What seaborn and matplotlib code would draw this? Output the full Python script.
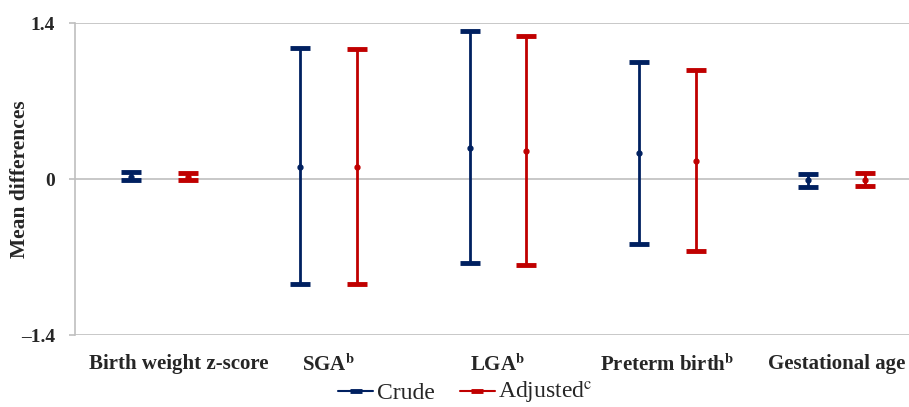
import numpy as np
import pandas as pd
import matplotlib
matplotlib.use("Agg")
import matplotlib.pyplot as plt
import matplotlib.transforms as mtransforms
import seaborn as sns
from matplotlib.lines import Line2D

categories = ["Birth weight z-score", r"SGA$^{\mathbf{b}}$", r"LGA$^{\mathbf{b}}$",
              r"Preterm birth$^{\mathbf{b}}$", "Gestational age"]
crude_est = [0.02, 0.11, 0.28, 0.23, -0.01]
crude_low = [-0.01, -0.94, -0.75, -0.58, -0.07]
crude_high = [0.06, 1.18, 1.33, 1.05, 0.045]
adj_est = [0.02, 0.11, 0.25, 0.16, -0.005]
adj_low = [-0.01, -0.94, -0.77, -0.65, -0.06]
adj_high = [0.055, 1.17, 1.28, 0.98, 0.055]
series_names = ["Crude", r"Adjusted$^{\mathrm{c}}$"]
yticks = [-1.4, 0, 1.4]
ytick_labels = ["\u20131.4", "0", "1.4"]

sns.set_theme(style="white")
plt.rcParams["font.family"] = ["Liberation Serif", "DejaVu Serif"]
plt.rcParams["mathtext.fontset"] = "stix"

colors = ["#002060", "#C00000"]
fig = plt.figure(figsize=(9.09, 4.07), dpi=100)
ax = fig.add_axes([75 / 909, 72 / 407, 846 / 909, 312 / 407])

x = np.arange(len(categories))
offset = 0.168
for i, (est, lo, hi) in enumerate([(crude_est, crude_low, crude_high),
                                    (adj_est, adj_low, adj_high)]):
    est = np.array(est); lo = np.array(lo); hi = np.array(hi)
    ax.errorbar(x + (i * 2 - 1) * offset, est, yerr=[est - lo, hi - est],
                fmt="o", ms=3.5, color=colors[i], ecolor=colors[i], elinewidth=2,
                capsize=7.5, capthick=3.5, zorder=3)

ax.set_xlim(-0.5, len(categories) - 0.5)
ax.set_ylim(-1.4, 1.4)
ax.set_yticks(yticks)
ax.set_yticklabels(ytick_labels, fontsize=14, fontweight="bold")
ax.set_xticks(x)
ax.set_xticklabels(categories, fontsize=15, fontweight="bold")
for yv in yticks:
    ax.axhline(yv, color="#BFBFBF", lw=1.2, zorder=1)
for s in ["top", "right", "bottom"]:
    ax.spines[s].set_visible(False)
ax.spines["left"].set_color("#BFBFBF")
ax.spines["left"].set_linewidth(1.2)
ax.tick_params(axis="y", length=4.5, width=1.2, color="#BFBFBF", left=True, pad=10)
ax.tick_params(axis="x", length=0, pad=14)
ax.set_ylabel("Mean differences", fontsize=15.5, fontweight="bold")
ax.yaxis.label.set_va("center")
ax.yaxis.set_label_coords(-55 / 846, 0.5)

# first label shifted right as in the reference
lbl = ax.get_xticklabels()[0]
lbl.set_transform(lbl.get_transform() +
                  mtransforms.ScaledTranslation(0.19, 0, fig.dpi_scale_trans))

handles = [Line2D([0], [0], color=c, lw=1.5, marker="_", markersize=9,
                  markeredgewidth=3.5) for c in colors]
fig.legend(handles, series_names, loc="lower center", bbox_to_anchor=(0.512, -0.05),
           ncol=2, frameon=False, fontsize=17, handlelength=1.5, handletextpad=0.15,
           columnspacing=1.05)

fig.savefig("out.png", dpi=100)
